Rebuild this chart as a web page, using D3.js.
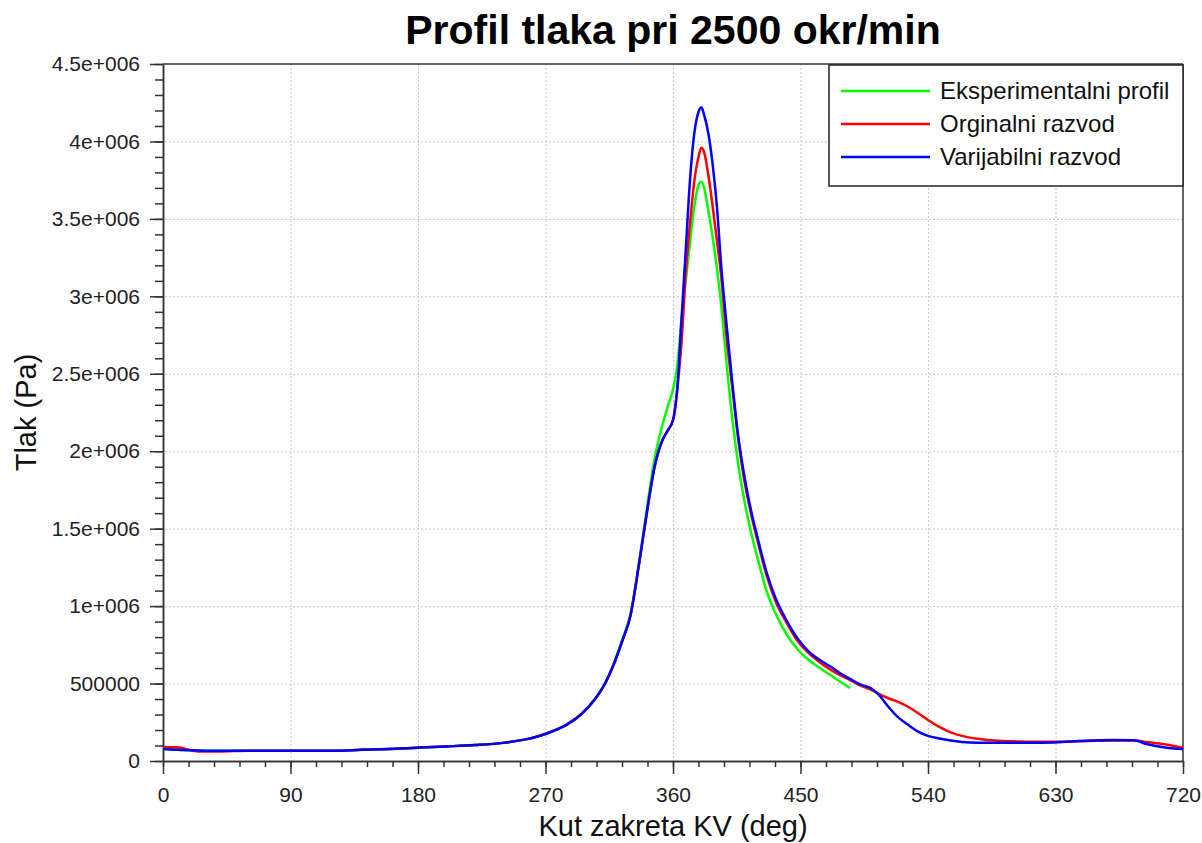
<!DOCTYPE html>
<html>
<head>
<meta charset="utf-8">
<script src="https://cdn.jsdelivr.net/npm/d3@7"></script>
<style>
  body { margin: 0; background: #fff; }
  svg { display: block; font-family: "Liberation Sans", Arial, sans-serif; }
  .grid line { stroke: #c8c8c8; stroke-dasharray: 2,2; }
  .grid .domain { display: none; }
  .axis text { fill: #222; font-size: 21px; }
  .axis path, .axis line { stroke: #333; stroke-width: 1.5; }
</style>
</head>
<body>
<script>
'use strict';

// crank angle (deg)
const angles = [0, 10, 25, 40, 60, 90, 120, 140, 160, 180, 200, 220, 240, 255, 265, 275, 285, 295,
  305, 312, 318, 324, 330, 336, 342, 347, 352, 356, 360, 363, 366, 369, 372, 375, 378, 380,
  382, 385, 388, 391, 394, 398, 402, 406, 410, 415, 420, 426, 432, 440, 448, 456, 464, 472,
  480, 485, 492, 500, 506, 512, 518, 525, 532, 540, 548, 556, 564, 575, 590, 610, 630, 650,
  670, 685, 695, 705, 712, 720];

// Eksperimentalni profil (ends at 485 deg)
const expPressure = [77e3, 72e3, 68e3, 66e3, 66e3, 66e3, 66e3, 72e3, 78e3, 86e3, 94e3, 103e3, 117e3, 138e3, 160e3, 192e3, 235e3, 300e3,
  400e3, 500e3, 625e3, 780e3, 950e3, 1.28e6, 1.66e6, 1.95e6, 2.15e6, 2.28e6, 2.40e6, 2.55e6, 2.85e6, 3.10e6, 3.35e6, 3.58e6, 3.72e6, 3.74e6,
  3.70e6, 3.55e6, 3.38e6, 3.18e6, 2.95e6, 2.55e6, 2.20e6, 1.92e6, 1.70e6, 1.48e6, 1.30e6, 1.10e6, 960e3, 820e3, 720e3, 650e3, 598e3, 550e3,
  500e3, 471e3, null, null, null, null, null, null, null, null, null, null, null, null, null, null, null, null,
  null, null, null, null, null, null];

// Orginalni razvod
const origPressure = [90e3, 88e3, 62e3, 62e3, 66e3, 66e3, 66e3, 72e3, 78e3, 86e3, 94e3, 103e3, 117e3, 138e3, 160e3, 192e3, 235e3, 300e3,
  400e3, 500e3, 620e3, 770e3, 940e3, 1.27e6, 1.63e6, 1.90e6, 2.06e6, 2.13e6, 2.20e6, 2.40e6, 2.70e6, 3.15e6, 3.47e6, 3.74e6, 3.90e6, 3.96e6,
  3.93e6, 3.78e6, 3.58e6, 3.36e6, 3.13e6, 2.72e6, 2.40e6, 2.08e6, 1.83e6, 1.60e6, 1.41e6, 1.20e6, 1.04e6, 895e3, 775e3, 695e3, 635e3, 585e3,
  545e3, 522e3, 488e3, 460e3, 430e3, 405e3, 385e3, 355e3, 315e3, 265e3, 220e3, 185e3, 162e3, 143e3, 130e3, 125e3, 125e3, 128e3,
  133e3, 133e3, 122e3, 110e3, 100e3, 85e3];

// Varijabilni razvod
const varPressure = [77e3, 72e3, 68e3, 66e3, 66e3, 66e3, 66e3, 72e3, 78e3, 86e3, 94e3, 103e3, 117e3, 138e3, 160e3, 192e3, 235e3, 300e3,
  400e3, 500e3, 620e3, 770e3, 940e3, 1.27e6, 1.63e6, 1.90e6, 2.06e6, 2.13e6, 2.20e6, 2.40e6, 2.85e6, 3.30e6, 3.75e6, 4.05e6, 4.19e6, 4.22e6,
  4.17e6, 4.05e6, 3.85e6, 3.58e6, 3.20e6, 2.80e6, 2.43e6, 2.10e6, 1.86e6, 1.62e6, 1.43e6, 1.22e6, 1.06e6, 910e3, 790e3, 705e3, 650e3, 605e3,
  555e3, 530e3, 495e3, 468e3, 420e3, 350e3, 290e3, 240e3, 195e3, 162e3, 145e3, 132e3, 123e3, 118e3, 118e3, 118e3, 120e3, 130e3,
  135e3, 134e3, 108e3, 90e3, 82e3, 77e3];

const seriesNames = ['Eksperimentalni profil', 'Orginalni razvod', 'Varijabilni razvod'];
const seriesColors = ['#00ff00', '#ff0000', '#0000ff'];
const xTicks = [0, 90, 180, 270, 360, 450, 540, 630, 720];
const yTicks = [0, 5e5, 1e6, 1.5e6, 2e6, 2.5e6, 3e6, 3.5e6, 4e6, 4.5e6];
const yTickLabels = ['0', '500000', '1e+006', '1.5e+006', '2e+006', '2.5e+006', '3e+006', '3.5e+006', '4e+006', '4.5e+006'];

const W = 1202, H = 843;
const margin = { top: 64, right: 19, bottom: 82, left: 163 },
  width = W - margin.left - margin.right,
  height = H - margin.top - margin.bottom;

const svg = d3.select('body').append('svg')
  .attr('width', W)
  .attr('height', H);

const g = svg.append('g')
  .attr('transform', 'translate(' + margin.left + ',' + margin.top + ')');

const x = d3.scaleLinear().domain([0, 720]).range([0, width]);
const y = d3.scaleLinear().domain([0, 4.5e6]).range([height, 0]);

// grid
g.append('g')
  .attr('class', 'grid')
  .call(d3.axisBottom(x).tickValues(xTicks.slice(1, -1)).tickSize(height).tickFormat(''));
g.append('g')
  .attr('class', 'grid')
  .attr('transform', 'translate(' + width + ',0)')
  .call(d3.axisLeft(y).tickValues(yTicks.slice(1, -1)).tickSize(width).tickFormat(''));

// minor ticks
g.append('g')
  .attr('class', 'axis')
  .attr('transform', 'translate(0,' + height + ')')
  .call(d3.axisBottom(x).tickValues(d3.range(0, 721, 18)).tickSize(6).tickSizeOuter(0).tickFormat(''));
g.append('g')
  .attr('class', 'axis')
  .call(d3.axisLeft(y).tickValues(d3.range(0, 4.5e6 + 1, 1e5)).tickSize(8).tickSizeOuter(0).tickFormat(''));

// major ticks with labels
g.append('g')
  .attr('class', 'axis')
  .attr('transform', 'translate(0,' + height + ')')
  .call(d3.axisBottom(x).tickValues(xTicks).tickSize(13).tickSizeOuter(0).tickPadding(13));
g.append('g')
  .attr('class', 'axis')
  .call(d3.axisLeft(y).tickValues(yTicks).tickSize(13).tickSizeOuter(0).tickPadding(10)
    .tickFormat((d, i) => yTickLabels[i]));

// frame top / right
g.append('line').attr('x1', 0).attr('x2', width).attr('y1', 0).attr('y2', 0)
  .attr('stroke', '#333').attr('stroke-width', 1.5);
g.append('line').attr('x1', width).attr('x2', width).attr('y1', 0).attr('y2', height)
  .attr('stroke', '#333').attr('stroke-width', 1.5);

// lines
const allSeries = [expPressure, origPressure, varPressure];
const line = d3.line()
  .defined(d => d[1] !== null)
  .x(d => x(d[0]))
  .y(d => y(d[1]))
  .curve(d3.curveMonotoneX);

allSeries.forEach((vals, i) => {
  g.append('path')
    .datum(angles.map((a, j) => [a, vals[j]]))
    .attr('fill', 'none')
    .attr('stroke', seriesColors[i])
    .attr('stroke-width', 2.5)
    .attr('stroke-linejoin', 'round')
    .attr('d', line);
});

// legend
const legend = g.append('g')
  .attr('transform', 'translate(' + (width - 354) + ',1)');
legend.append('rect')
  .attr('width', 354)
  .attr('height', 121)
  .attr('fill', '#fff')
  .attr('stroke', '#222')
  .attr('stroke-width', 1.5);
seriesNames.forEach((name, i) => {
  const ly = 26 + i * 33;
  legend.append('line')
    .attr('x1', 12).attr('x2', 101)
    .attr('y1', ly).attr('y2', ly)
    .attr('stroke', seriesColors[i])
    .attr('stroke-width', 2.5);
  legend.append('text')
    .attr('x', 111)
    .attr('y', ly)
    .attr('dy', '0.35em')
    .style('font-size', '24px')
    .style('fill', '#111')
    .text(name);
});

// title and axis labels
svg.append('text')
  .attr('x', margin.left + width / 2)
  .attr('y', 44)
  .attr('text-anchor', 'middle')
  .style('font-size', '41px')
  .style('font-weight', 'bold')
  .style('fill', '#000')
  .text('Profil tlaka pri 2500 okr/min');

svg.append('text')
  .attr('x', margin.left + width / 2)
  .attr('y', 836)
  .attr('text-anchor', 'middle')
  .style('font-size', '29px')
  .style('fill', '#111')
  .text('Kut zakreta KV (deg)');

svg.append('text')
  .attr('transform', 'translate(36,' + (margin.top + height / 2) + ') rotate(-90)')
  .attr('text-anchor', 'middle')
  .style('font-size', '29px')
  .style('fill', '#111')
  .text('Tlak (Pa)');
</script>
</body>
</html>
